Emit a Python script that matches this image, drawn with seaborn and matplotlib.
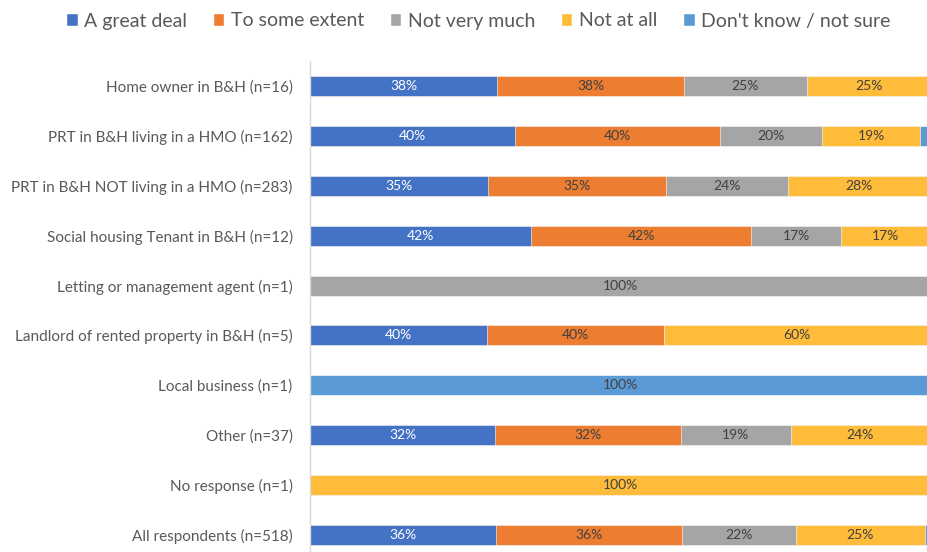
import numpy as np
import pandas as pd
import matplotlib
matplotlib.use("Agg")
import matplotlib.pyplot as plt
from matplotlib.patches import Patch
import seaborn as sns

# Data
CATEGORIES = [
    "Home owner in B&H (n=16)",
    "PRT in B&H living in a HMO (n=162)",
    "PRT in B&H NOT living in a HMO (n=283)",
    "Social housing Tenant in B&H (n=12)",
    "Letting or management agent (n=1)",
    "Landlord of rented property in B&H (n=5)",
    "Local business (n=1)",
    "Other (n=37)",
    "No response (n=1)",
    "All respondents (n=518)",
]
SERIES = ["A great deal", "To some extent", "Not very much", "Not at all", "Don't know / not sure"]
GREAT_DEAL = [38, 40, 35, 42, 0, 40, 0, 32, 0, 36]
SOME_EXTENT = [38, 40, 35, 42, 0, 40, 0, 32, 0, 36]
NOT_VERY = [25, 20, 24, 17, 100, 0, 0, 19, 0, 22]
NOT_AT_ALL = [25, 19, 28, 17, 0, 60, 0, 24, 100, 25]
DONT_KNOW = [0, 2, 0, 0, 0, 0, 100, 0, 0, 1]

COLORS = ["#4472C4", "#ED7D31", "#A5A5A5", "#FFBC3A", "#5B9BD5"]
TEXT_COLORS = ["white", "#404040", "#404040", "#404040", "#404040"]

df = pd.DataFrame(
    {s: v for s, v in zip(SERIES, [GREAT_DEAL, SOME_EXTENT, NOT_VERY, NOT_AT_ALL, DONT_KNOW])},
    index=CATEGORIES,
)
share = df.div(df.sum(axis=1), axis=0)
cum = share.cumsum(axis=1)

sns.set_style("white")
plt.rcParams["font.family"] = ["Lato", "DejaVu Sans"]

fig = plt.figure(figsize=(9.27, 5.52), dpi=100)
ax = fig.add_axes([310 / 927, -8 / 552, 620 / 927, 499 / 552])

# stacked bars: draw cumulative totals from the last series to the first
for s, c in reversed(list(zip(SERIES, COLORS))):
    sns.barplot(x=cum[s].values, y=CATEGORIES, orient="h", color=c,
                saturation=1, width=0.4, ax=ax, edgecolor="white", linewidth=0.4)

# value labels
for j, (s, tc) in enumerate(zip(SERIES, TEXT_COLORS)):
    for i, cat in enumerate(CATEGORIES):
        v = df.loc[cat, s]
        if v < 5:
            continue
        mid = cum.loc[cat, s] - share.loc[cat, s] / 2
        ax.text(mid, i, f"{v}%", ha="center", va="center", fontsize=10, color=tc)

ax.set_xlim(0, 1)
ax.set_ylim(len(CATEGORIES) - 0.5, -0.5)
ax.set_xlabel("")
ax.set_ylabel("")
ax.set_xticks([])
ax.tick_params(axis="y", length=0, labelsize=11, labelcolor="#595959", pad=12.5)
for side in ["top", "right", "bottom"]:
    ax.spines[side].set_visible(False)
ax.spines["left"].set_color("#D9D9D9")
ax.spines["left"].set_linewidth(1)

handles = [Patch(facecolor=c, label=s) for s, c in zip(SERIES, COLORS)]
fig.legend(handles=handles, loc="center", bbox_to_anchor=(0.516, 1 - 21 / 552), ncol=5,
           frameon=False, fontsize=14, handlelength=0.6, handleheight=0.6,
           handletextpad=0.35, columnspacing=1.3, labelcolor="#595959")

fig.savefig("out.png", dpi=100)
